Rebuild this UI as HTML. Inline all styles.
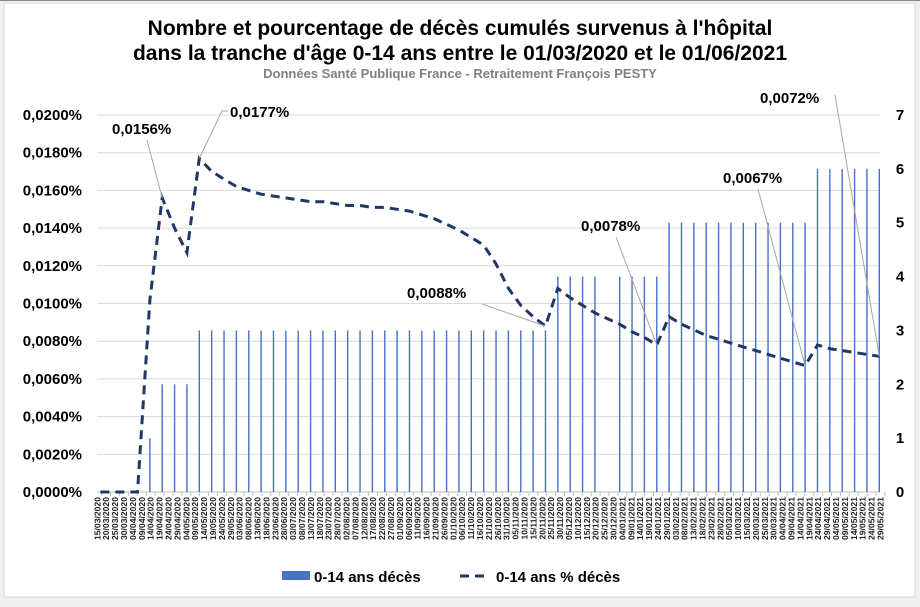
<!DOCTYPE html>
<html><head><meta charset="utf-8"><style>
body{margin:0;background:#fff;}
svg{display:block;font-family:"Liberation Sans",Arial,sans-serif;}
</style></head><body>
<svg id="chart" width="920" height="607">
<rect x="0" y="0" width="920" height="607" fill="#f0f0f0"/>
<rect x="4" y="3" width="911" height="594" fill="#fff" stroke="#d9d9d9"/>
<line x1="0" y1="0.5" x2="920" y2="0.5" stroke="#888"/>
<text x="460" y="35" text-anchor="middle" font-size="21" font-weight="bold" fill="#000">Nombre et pourcentage de décès cumulés survenus à l'hôpital</text>
<text x="460" y="60" text-anchor="middle" font-size="21" font-weight="bold" fill="#000">dans la tranche d'âge 0-14 ans entre le 01/03/2020 et le 01/06/2021</text>
<text x="460" y="78" text-anchor="middle" font-size="13" font-weight="bold" fill="#808080">Données Santé Publique France - Retraitement François PESTY</text>
<g id="grid"></g><g id="bars"></g><g id="xlabels"></g><g id="ylabels"></g>
<path id="line" fill="none" stroke="#1f3864" stroke-width="3" stroke-dasharray="9,6"/>
<g id="annots"></g>
<g>
<rect x="282" y="571" width="28" height="9" fill="#4472c4"/>
<text x="314" y="582" font-size="15" font-weight="bold">0-14 ans décès</text>
<line x1="460" y1="576" x2="490" y2="576" stroke="#1f3864" stroke-width="3" stroke-dasharray="9,6"/>
<text x="496" y="582" font-size="15" font-weight="bold">0-14 ans % décès</text>
</g>
</svg>
<script>
const leftTicks=["0,0000%","0,0020%","0,0040%","0,0060%","0,0080%","0,0100%","0,0120%","0,0140%","0,0160%","0,0180%","0,0200%"];
const rightTicks=["0","1","2","3","4","5","6","7"];
const dateLabels=["15/03/2020","20/03/2020","25/03/2020","30/03/2020","04/04/2020","09/04/2020","14/04/2020","19/04/2020","24/04/2020","29/04/2020","04/05/2020","09/05/2020","14/05/2020","19/05/2020","24/05/2020","29/05/2020","03/06/2020","08/06/2020","13/06/2020","18/06/2020","23/06/2020","28/06/2020","03/07/2020","08/07/2020","13/07/2020","18/07/2020","23/07/2020","28/07/2020","02/08/2020","07/08/2020","12/08/2020","17/08/2020","22/08/2020","27/08/2020","01/09/2020","06/09/2020","11/09/2020","16/09/2020","21/09/2020","26/09/2020","01/10/2020","06/10/2020","11/10/2020","16/10/2020","21/10/2020","26/10/2020","31/10/2020","05/11/2020","10/11/2020","15/11/2020","20/11/2020","25/11/2020","30/11/2020","05/12/2020","10/12/2020","15/12/2020","20/12/2020","25/12/2020","30/12/2020","04/01/2021","09/01/2021","14/01/2021","19/01/2021","24/01/2021","29/01/2021","03/02/2021","08/02/2021","13/02/2021","18/02/2021","23/02/2021","28/02/2021","05/03/2021","10/03/2021","15/03/2021","20/03/2021","25/03/2021","30/03/2021","04/04/2021","09/04/2021","14/04/2021","19/04/2021","24/04/2021","29/04/2021","04/05/2021","09/05/2021","14/05/2021","19/05/2021","24/05/2021","29/05/2021"];
// weekly series (64 weeks; first 4 precede first death)
const deaths=[0,0,0,0,1,2,2,2,3,3,3,3,3,3,3,3,3,3,3,3,3,3,3,3,3,3,3,3,3,3,3,3,3,3,3,3,3,4,4,4,4,0,4,4,4,4,5,5,5,5,5,5,5,5,5,5,5,5,6,6,6,6,6,6];
const pct=[0,0,0,0,0.0102,0.0156,0.0140,0.0127,0.0177,0.0170,0.0166,0.0162,0.0160,0.0158,0.0157,0.0156,0.0155,0.0154,0.0154,0.0153,0.0152,0.0152,0.0151,0.0151,0.0150,0.0149,0.0147,0.0145,0.0142,0.0139,0.0135,0.0131,0.0121,0.0108,0.0099,0.0093,0.0088,0.0108,0.0103,0.0099,0.0095,0.0092,0.0089,0.0085,0.0082,0.0078,0.0093,0.0089,0.0086,0.0083,0.0081,0.0079,0.0077,0.0075,0.0073,0.0071,0.0069,0.0067,0.0078,0.0076,0.0075,0.0074,0.0073,0.0072];
const annotIdx=[5,8,36,45,57,63];
const annotText=["0,0156%","0,0177%","0,0088%","0,0078%","0,0067%","0,0072%"];
const annotPos=[[112,134],[230,117],[407,298],[581,231],[723,183],[760,103]];

const NS="http://www.w3.org/2000/svg";
const X0=97,X1=880,Y0=492,YT=115;
const yL=v=>Y0-(v/0.02)*(Y0-YT);
const yR=v=>Y0-(v/7)*(Y0-YT);
const xCat=i=>97.3+i*(880.5-97.3)/(dateLabels.length-1);
const xW=i=>100.4+(i)*(879.3-100.4)/(deaths.length-1);
function mk(tag,attrs,parent){const e=document.createElementNS(NS,tag);for(const k in attrs)e.setAttribute(k,attrs[k]);document.getElementById(parent).appendChild(e);return e;}
leftTicks.forEach((t,i)=>{
  const y=Y0-i*(Y0-YT)/(leftTicks.length-1);
  const g=mk('line',{x1:X0,x2:X1,y1:y,y2:y,stroke:i==0?'#bfbfbf':'#d9d9d9','stroke-width':1},'grid');
  
  
  const tx=mk('text',{x:82,y:y+5,'text-anchor':'end','font-size':15,'font-weight':'bold'},'ylabels');
  tx.textContent=t;
  
  
});
rightTicks.forEach((t,i)=>{
  const tx=mk('text',{x:900,y:yR(+t)+5,'text-anchor':'middle','font-size':15,'font-weight':'bold'},'ylabels');
  tx.textContent=t;
  
  
});
dateLabels.forEach((d,i)=>{
  const x=xCat(i);
  const tk=mk('line',{x1:x+4.4,x2:x+4.4,y1:Y0,y2:Y0+4,stroke:'#bfbfbf'},'xlabels');
  
  
  const tx=mk('text',{x:0,y:0,transform:`translate(${x+3},${Y0+5}) rotate(-90)`,'text-anchor':'end','font-size':8.6,'font-weight':'bold',fill:'#222'},'xlabels');
  tx.textContent=d;
  
  
});
deaths.forEach((v,i)=>{
  if(v<=0)return;
  const b=mk('rect',{x:xW(i)-0.7,y:yR(v),width:1.4,height:Y0-yR(v),fill:'#4472c4'},'bars');
  
  
});
let d='';
pct.forEach((v,i)=>{d+=(i?'L':'M')+xW(i).toFixed(1)+','+yL(v).toFixed(1);});
document.getElementById('line').setAttribute('d',d);
annotIdx.forEach((k,j)=>{
  const [tx,ty]=annotPos[j];
  const px=xW(k),py=yL(pct[k]);
  let pts;
  if(j==1){pts=`${tx-2},${ty-6} ${tx-8},${ty-6} ${px},${py}`;}
  else{
    const sx=j==5?tx+75:tx+35+(j==2?40:0), sy=j==5?ty-8:ty+6;
    pts=`${sx},${sy} ${px},${py}`;
  }
  const ln=mk('polyline',{points:pts,fill:'none',stroke:'#a6a6a6','stroke-width':1},'annots');
  
  
  const t=mk('text',{x:tx,y:ty,'font-size':15,'font-weight':'bold'},'annots');
  t.textContent=annotText[j];
  
  
});
</script>
</body></html>
